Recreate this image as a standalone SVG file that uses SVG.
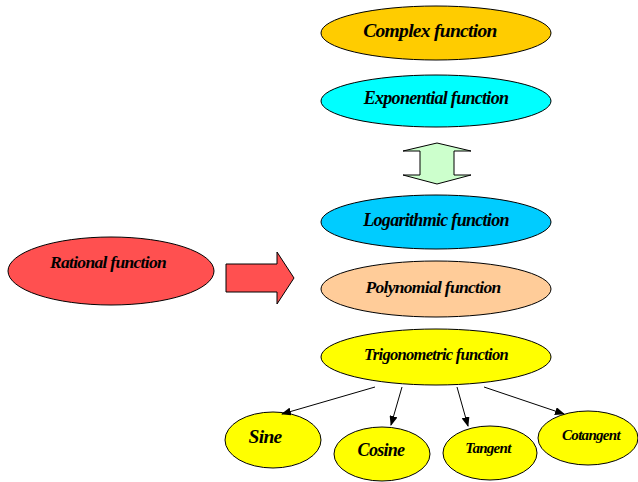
<svg xmlns="http://www.w3.org/2000/svg" width="638" height="482" viewBox="0 0 638 482">
<style>
.n{stroke:#000;stroke-width:1}
.t{font-family:"Liberation Serif","Times New Roman",serif;font-weight:bold;font-style:italic;text-anchor:middle;fill:#000;letter-spacing:-0.7px}
.c{stroke:#000;stroke-width:1;fill:none}
</style>
<defs>
<marker id="ah" markerWidth="10" markerHeight="8" refX="9" refY="4" orient="auto" markerUnits="userSpaceOnUse">
<path d="M0,0 L10,4 L0,8 z" fill="#000"/>
</marker>
</defs>
<rect width="638" height="482" fill="#fff"/>
<g id="complex"><ellipse class="n" cx="436" cy="33" rx="115" ry="27" fill="#FFCC00"/><text class="t" x="430" y="37" font-size="19.5">Complex function</text></g>
<g id="exponential"><ellipse class="n" cx="436" cy="101" rx="115" ry="26" fill="#00FFFF"/><text class="t" x="436" y="104" font-size="18">Exponential function</text></g>
<g id="doublearrow"><path class="n" fill="#CCFFCC" d="M437,143 L471,151 L454,151 L454,175 L471,175 L437,184 L403,175 L420,175 L420,151 L403,151 Z"/></g>
<g id="logarithmic"><ellipse class="n" cx="436" cy="222" rx="115" ry="27" fill="#00CCFF"/><text class="t" x="436" y="226" font-size="18">Logarithmic function</text></g>
<g id="polynomial"><ellipse class="n" cx="436" cy="289" rx="115" ry="28" fill="#FFCC99"/><text class="t" x="433" y="293" font-size="17.5">Polynomial function</text></g>
<g id="trigonometric"><ellipse class="n" cx="436" cy="357" rx="115" ry="28" fill="#FFFF00"/><text class="t" x="436" y="360" font-size="16.5">Trigonometric function</text></g>
<g id="rational"><ellipse class="n" cx="111" cy="271" rx="103" ry="34" fill="#FF5050"/><text class="t" x="108" y="268" font-size="17.5">Rational function</text></g>
<g id="rightarrow"><path class="n" fill="#FF5050" d="M226,264 L277,264 L277,252 L294,278 L277,304 L277,292 L226,292 Z"/></g>
<g id="sine"><ellipse class="n" cx="273" cy="440" rx="48" ry="28" fill="#FFFF00"/><text class="t" x="265" y="443" font-size="19.5">Sine</text></g>
<g id="cosine"><ellipse class="n" cx="382" cy="454" rx="48" ry="27" fill="#FFFF00"/><text class="t" x="381" y="456" font-size="18">Cosine</text></g>
<g id="tangent"><ellipse class="n" cx="490" cy="453" rx="47" ry="27" fill="#FFFF00"/><text class="t" x="488" y="453" font-size="15">Tangent</text></g>
<g id="cotangent"><ellipse class="n" cx="588" cy="438" rx="50" ry="27" fill="#FFFF00"/><text class="t" x="591" y="440" font-size="15">Cotangent</text></g>
<g id="connectors">
<line class="c" x1="375" y1="387" x2="282" y2="414" marker-end="url(#ah)"/>
<line class="c" x1="402" y1="387" x2="391" y2="425" marker-end="url(#ah)"/>
<line class="c" x1="457" y1="387" x2="468" y2="426" marker-end="url(#ah)"/>
<line class="c" x1="484" y1="387" x2="564" y2="414" marker-end="url(#ah)"/>
</g>
</svg>
